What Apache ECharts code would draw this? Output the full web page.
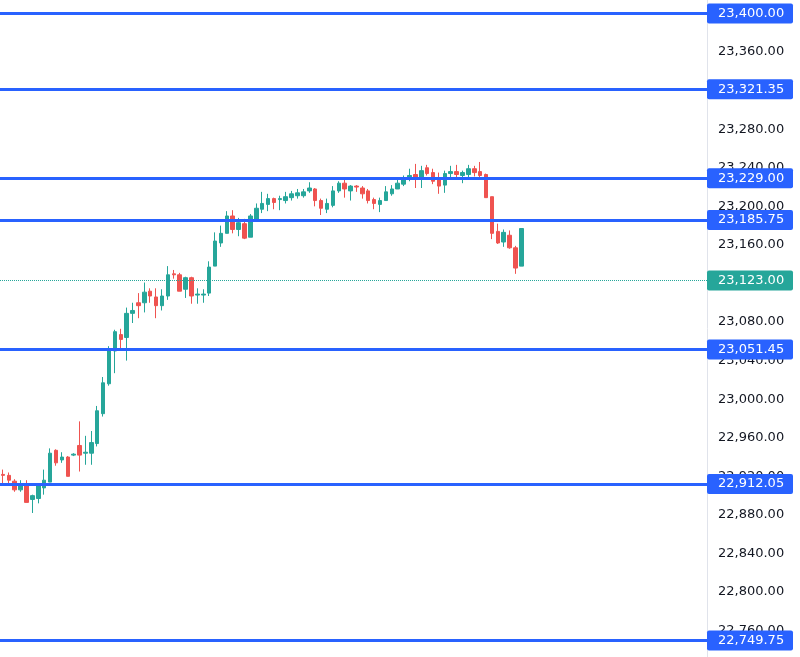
<!DOCTYPE html>
<html>
<head>
<meta charset="utf-8">
<script src="https://cdn.jsdelivr.net/npm/echarts@6/dist/echarts.min.js"></script>
<style>
  html, body { margin: 0; padding: 0; background: #fff; }
  #chart { width: 800px; height: 657px; }
</style>
</head>
<body>
<div id="chart"></div>
<script>
// candle values, oldest first
var opens  = [22922, 22921, 22915, 22906, 22910, 22896, 22897, 22908, 22914, 22947,
              22937, 22940, 22942, 22952, 22944, 22944, 22954, 22985, 23016, 23050,
              23067, 23064, 23089, 23100, 23100, 23112, 23106, 23097, 23107, 23130,
              23129, 23114, 23126, 23108, 23108, 23110, 23138, 23162, 23172, 23190,
              23176, 23182, 23168, 23185, 23197, 23202, 23208, 23207, 23206, 23209,
              23211, 23211, 23216, 23218, 23206, 23197, 23201, 23216, 23224, 23216,
              23221, 23219, 23216, 23207, 23202, 23206, 23213, 23218, 23223, 23228,
              23233, 23229, 23240, 23235, 23228, 23222, 23234, 23236, 23232, 23233,
              23239, 23236, 23233, 23210, 23174, 23163, 23170, 23157, 23138];
var closes = [22921, 22916, 22906, 22911, 22893, 22900, 22910, 22916, 22944, 22934,
              22940, 22920, 22943, 22942, 22945, 22955, 22988, 23017, 23050, 23070,
              23062, 23089, 23092, 23097, 23111, 23107, 23097, 23107, 23129, 23129,
              23112, 23126, 23107, 23109, 23109, 23137, 23164, 23172, 23190, 23176,
              23183, 23167, 23190, 23198, 23203, 23208, 23204, 23208, 23210, 23213,
              23214, 23215, 23219, 23206, 23198, 23203, 23216, 23224, 23218, 23221,
              23220, 23213, 23206, 23203, 23206, 23215, 23218, 23224, 23228, 23232,
              23229, 23237, 23234, 23226, 23221, 23234, 23236, 23233, 23235, 23239,
              23235, 23232, 23209, 23172, 23162, 23173, 23157, 23136, 23177];
var lows   = [22913, 22913, 22904, 22904, 22893, 22882, 22892, 22901, 22914, 22931,
              22934, 22920, 22941, 22925, 22932, 22932, 22951, 22982, 23014, 23027,
              23051, 23040, 23079, 23084, 23090, 23100, 23084, 23092, 23103, 23125,
              23112, 23105, 23099, 23099, 23100, 23107, 23138, 23158, 23172, 23172,
              23169, 23166, 23168, 23185, 23193, 23195, 23197, 23196, 23203, 23206,
              23208, 23209, 23214, 23200, 23191, 23193, 23199, 23214, 23209, 23206,
              23215, 23208, 23203, 23197, 23194, 23206, 23211, 23218, 23221, 23226,
              23219, 23219, 23232, 23223, 23213, 23214, 23230, 23229, 23224, 23230,
              23231, 23230, 23209, 23166, 23161, 23158, 23156, 23130, 23138];
var highs  = [22927, 22924, 22917, 22916, 22916, 22901, 22913, 22927, 22949, 22948,
              22945, 22941, 22944, 22977, 22962, 22967, 22993, 23023, 23055, 23072,
              23073, 23095, 23100, 23110, 23121, 23115, 23115, 23114, 23138, 23134,
              23131, 23127, 23127, 23115, 23114, 23143, 23173, 23180, 23195, 23196,
              23188, 23187, 23192, 23203, 23215, 23213, 23209, 23211, 23215, 23216,
              23218, 23218, 23225, 23219, 23208, 23208, 23221, 23226, 23228, 23222,
              23222, 23221, 23218, 23209, 23209, 23221, 23222, 23228, 23232, 23239,
              23244, 23242, 23243, 23239, 23235, 23237, 23242, 23243, 23237, 23243,
              23242, 23246, 23234, 23210, 23182, 23176, 23175, 23159, 23177];

// horizontal levels and the last price
var levels = [23400, 23321.35, 23229, 23185.75, 23051.45, 22912.05, 22749.75];
var lastPrice = 23123;

// slots on the time axis (empty ones keep the right-hand space)
var slotCount = 120;

var upColor = '#26a69a';
var downColor = '#ef5350';
var levelColor = '#2962ff';
var labelFont = '"DejaVu Sans", sans-serif';

function fmt(v) {
	return Number(v).toLocaleString('en-US', { minimumFractionDigits: 2, maximumFractionDigits: 2 });
}

function boxLabel(v, bg) {
	return {
		show: true,
		position: 'end',
		distance: 0,
		formatter: fmt(v),
		color: '#fff',
		backgroundColor: bg,
		borderRadius: 2,
		fontFamily: labelFont,
		fontSize: 13,
		lineHeight: 15,
		padding: [3, 0, 2, 11],
		width: 75,
		align: 'left'
	};
}

var categories = [];
for (var i = 0; i < slotCount; i++) categories.push(String(i));

var candles = [];
for (var k = 0; k < opens.length; k++) {
	candles.push([opens[k], closes[k], lows[k], highs[k]]);
}

var levelLines = levels.map(function(v) {
	return {
		yAxis: v,
		lineStyle: { color: levelColor, width: 3, type: 'solid' },
		label: boxLabel(v, levelColor)
	};
});

levelLines.push({
	yAxis: lastPrice,
	lineStyle: { color: upColor, width: 1, type: 'dotted' },
	label: boxLabel(lastPrice, upColor)
});

var myChart = echarts.init(document.getElementById('chart'));

var option = {
	animation: false,
	backgroundColor: '#fff',
	grid: {
		left: 0,
		right: 93,
		top: -25.1,
		bottom: -12.2,
		containLabel: false,
		outerBoundsMode: 'none'
	},
	xAxis: {
		type: 'category',
		data: categories,
		boundaryGap: true,
		axisLine: { show: false },
		axisTick: { show: false },
		axisLabel: { show: false },
		splitLine: { show: false }
	},
	yAxis: {
		type: 'value',
		position: 'right',
		scale: true,
		min: 22720,
		max: 23440,
		interval: 40,
		axisLine: { show: true, lineStyle: { color: '#e0e3eb', width: 1 } },
		axisTick: { show: false },
		splitLine: { show: false },
		axisLabel: {
			margin: 11,
			color: '#131722',
			fontFamily: labelFont,
			fontSize: 13,
			formatter: function(v) { return fmt(v); }
		}
	},
	series: [{
		type: 'candlestick',
		data: candles,
		barWidth: 4,
		clip: false,
		itemStyle: {
			color: upColor,
			color0: downColor,
			borderColor: upColor,
			borderColor0: downColor,
			borderWidth: 1
		},
		markLine: {
			silent: true,
			symbol: 'none',
			animation: false,
			data: levelLines
		}
	}]
};

myChart.setOption(option);
</script>
</body>
</html>
